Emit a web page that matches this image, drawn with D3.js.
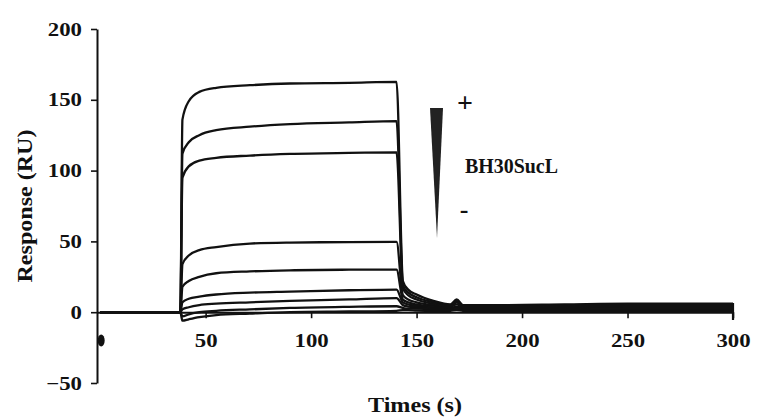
<!DOCTYPE html>
<html>
<head>
<meta charset="utf-8">
<script src="https://cdn.jsdelivr.net/npm/d3@7"></script>
<style>
  html, body { margin: 0; padding: 0; background: #fff; }
  svg { display: block; }
  text { font-family: "Liberation Serif", "Times New Roman", Times, serif; font-weight: bold; fill: #111; }
</style>
</head>
<body>
<svg id="chart" width="760" height="418"></svg>
<script>
// ---- Data ----
const times = [0, 38, 39, 42, 47, 55, 71, 90, 118, 140.5, 143.5, 146, 150, 158, 166, 169, 172, 185, 220, 250, 280, 300];

const series1 = [0, 0, 136, 149, 155.6, 158.5, 160.3, 161.5, 162, 162.6, 22, 16, 12.5, 8, 5.5, 9, 5, 5, 5.5, 6, 6, 6];
const series2 = [0, 0, 112, 120, 125, 128.5, 131, 132.8, 134, 134.9, 19, 14, 10.5, 7, 5, 8, 4.5, 4.5, 5, 5.5, 5.5, 5.5];
const series3 = [0, 0, 95, 103, 107, 109, 110.6, 111.8, 112.5, 112.8, 17, 12, 9, 6, 4.5, 7, 4, 4, 4.5, 5, 5, 5];
const series4 = [0, 0, 34, 40, 43.8, 46, 48.5, 49.2, 49.5, 49.6, 12, 9, 7, 5, 4, 5.5, 3.5, 3.5, 3.8, 4.2, 4.2, 4.2];
const series5 = [0, 0, 18, 22, 25, 27.5, 28.8, 29.6, 30, 30.1, 9, 7, 5.5, 4, 3, 4, 3, 3, 3.2, 3.5, 3.5, 3.5];
const series6 = [0, 0, 7, 9.5, 11, 12.5, 13.8, 14.5, 15.5, 16, 7, 5.5, 4.5, 3.5, 2.5, 3.5, 2.5, 2.5, 2.5, 2.8, 2.8, 2.8];
const series7 = [0, 0, 2, 3.5, 5, 6, 7, 8, 9, 10, 5, 4, 3.5, 2.5, 2, 3, 2, 2, 2, 2.2, 2.2, 2.2];
const series8 = [0, 0, -3, -1.5, 0, 1, 2, 3, 3.8, 4.2, 3, 2.5, 2.5, 2, 1.5, 2.5, 1.5, 1.5, 1.5, 1.5, 1.5, 1.5];
const series9 = [0, 0, -6, -5, -3.5, -2, -1, 0, 0.5, 1, 1.5, 1.5, 1.2, 1, 1, 1.5, 1, 1, 1, 1, 1, 1];
const allSeries = [series1, series2, series3, series4, series5, series6, series7, series8, series9];

const markerTimes = [0];
const markerValues = [-20];

const xTicks = [50, 100, 150, 200, 250, 300];
const yTicks = [-50, 0, 50, 100, 150, 200];
const xTitle = "Times (s)";
const yTitle = "Response (RU)";
const legendLabel = "BH30SucL";

// ---- Scales ----
const svg = d3.select("#chart");
const x = d3.scaleLinear().domain([-1.5, 300]).range([97, 733]);
const y = d3.scaleLinear().domain([-50, 200]).range([383, 29]);

// ---- Axes ----
const yAxis = svg.append("g")
  .attr("transform", `translate(${x(-1.5)},0)`)
  .call(d3.axisLeft(y).tickValues(yTicks).tickSize(6).tickSizeOuter(0).tickFormat(d3.format("d")));
yAxis.attr("font-family", null);
yAxis.select(".domain").attr("stroke", "#111").attr("stroke-width", 2);
yAxis.selectAll(".tick line").attr("stroke", "#111").attr("stroke-width", 1.6);
yAxis.selectAll(".tick text")
  .attr("font-size", 19)
  .attr("x", -12.5)
  .attr("transform", "scale(1.2,1)");

const xAxis = svg.append("g")
  .attr("transform", `translate(0,${y(0)})`)
  .call(d3.axisBottom(x).tickValues(xTicks).tickSize(6).tickSizeOuter(0).tickFormat(d3.format("d")));
xAxis.attr("font-family", null);
xAxis.select(".domain").attr("stroke", "#111").attr("stroke-width", 2);
xAxis.selectAll(".tick line").attr("stroke", "#111").attr("stroke-width", 1.6);
xAxis.selectAll(".tick text")
  .attr("font-size", 19)
  .attr("y", 35).attr("dy", null)
  .attr("transform", "scale(1.2,1)");

// ---- Curves ----
const line = d3.line()
  .x((d, i) => x(times[i]))
  .y(d => y(d))
  .curve(d3.curveMonotoneX);

svg.append("g").selectAll("path")
  .data(allSeries)
  .join("path")
  .attr("d", line)
  .attr("fill", "none")
  .attr("stroke", "#111")
  .attr("stroke-width", 2.3)
  .attr("stroke-linejoin", "round");

// end tick of the traces at t = 300
svg.append("line")
  .attr("x1", x(300)).attr("x2", x(300))
  .attr("y1", y(6.5)).attr("y2", y(-5.5))
  .attr("stroke", "#111").attr("stroke-width", 2.2);

// marker dot
svg.append("g").selectAll("ellipse")
  .data(markerTimes)
  .join("ellipse")
  .attr("cx", (d) => x(d) + 1)
  .attr("cy", (d, i) => y(markerValues[i]))
  .attr("rx", 3.5).attr("ry", 6)
  .attr("fill", "#111");

// ---- Titles ----
svg.append("text")
  .attr("x", 415).attr("y", 412)
  .attr("text-anchor", "middle")
  .attr("font-size", 20)
  .attr("textLength", 94).attr("lengthAdjust", "spacingAndGlyphs")
  .text(xTitle);

svg.append("text")
  .attr("transform", "translate(32,206) rotate(-90)")
  .attr("text-anchor", "middle")
  .attr("font-size", 20)
  .attr("textLength", 153).attr("lengthAdjust", "spacingAndGlyphs")
  .text(yTitle);

// ---- Concentration wedge legend ----
svg.append("path")
  .attr("d", "M430,108 L443,108 L437,238 Z")
  .attr("fill", "#222");

svg.append("text")
  .attr("x", 465).attr("y", 112)
  .attr("text-anchor", "middle")
  .attr("font-size", 28)
  .text("+");

svg.append("text")
  .attr("x", 464).attr("y", 218)
  .attr("text-anchor", "middle")
  .attr("font-size", 26)
  .text("-");

svg.append("text")
  .attr("x", 465).attr("y", 173)
  .attr("font-size", 20)
  .attr("textLength", 93).attr("lengthAdjust", "spacingAndGlyphs")
  .text(legendLabel);
</script>
</body>
</html>
